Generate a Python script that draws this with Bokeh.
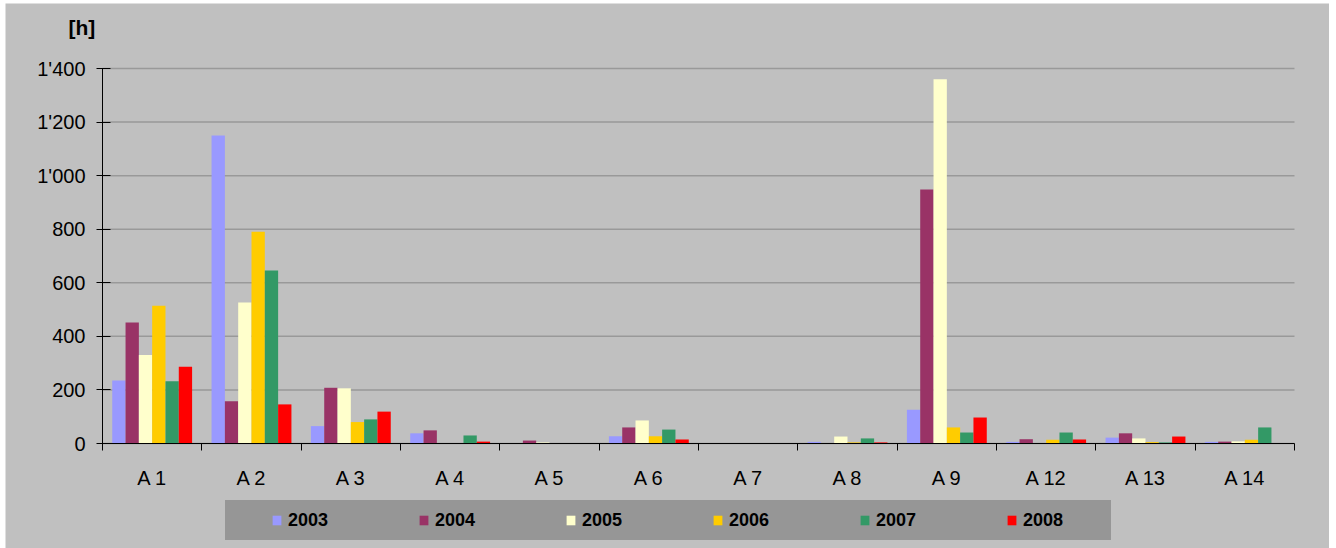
import numpy as np
from bokeh.plotting import figure
from bokeh.models import (ColumnDataSource, FixedTicker, CustomJSTickFormatter,
                          Range1d, Label, Legend, LegendItem)
from bokeh.transform import dodge
from bokeh.embed import file_html
from bokeh.resources import INLINE

# Operating hours per site and year
sites = ["A 1", "A 2", "A 3", "A 4", "A 5", "A 6", "A 7", "A 8", "A 9", "A 12", "A 13", "A 14"]
years = ["2003", "2004", "2005", "2006", "2007", "2008"]
h2003 = [235, 1150, 65, 38, 0, 27, 0, 6, 126, 6, 22, 6]
h2004 = [452, 158, 208, 49, 11, 60, 0, 0, 948, 16, 38, 7]
h2005 = [330, 526, 206, 0, 4, 86, 0, 26, 1360, 0, 19, 8]
h2006 = [514, 791, 80, 0, 0, 27, 0, 4, 60, 14, 5, 14]
h2007 = [232, 646, 90, 30, 0, 52, 0, 19, 41, 41, 4, 60]
h2008 = [287, 146, 119, 7, 0, 15, 0, 4, 97, 15, 26, 0]
y_ticks = [0, 200, 400, 600, 800, 1000, 1200, 1400]
y_tick_labels = ["0", "200", "400", "600", "800", "1'000", "1'200", "1'400"]

series = [h2003, h2004, h2005, h2006, h2007, h2008]
colors = ["#9999FF", "#993366", "#FFFFCC", "#FFCC00", "#339966", "#FF0000"]

FONT = "Liberation Sans"
BG = "#C0C0C0"

# canvas geometry (px): the plotting area spans the whole canvas and the
# axes sit at fixed positions inside it
W, H = 1324, 545
X0, Y0 = 97, 440          # pixel position of the axes' origin
X_LEN, Y_LEN = 1192, 375  # pixel length of the x and y axes
n = len(sites)
y_max = y_ticks[-1]
ppx = X_LEN / n
ppy = Y_LEN / y_max

centers = np.arange(n) + 0.5
data = {"x": centers}
for yr, vals in zip(years, series):
    data["y" + yr] = vals
source = ColumnDataSource(data)

p = figure(width=W, height=H, output_backend="svg", toolbar_location=None, tools="",
           x_range=Range1d(-X0 / ppx, (W - X0) / ppx),
           y_range=Range1d(-(H - Y0) / ppy, Y0 / ppy),
           min_border=0, min_border_left=0, min_border_right=0,
           min_border_top=0, min_border_bottom=0,
           background_fill_color=BG, border_fill_color=BG, outline_line_color=None,
           margin=(3, 7, 0, 5))
p.grid.visible = False

# horizontal gridlines over the value range
p.segment(x0=0, x1=n, y0=y_ticks, y1=y_ticks, line_color="#999999", line_width=1.5,
          level="underlay")

bar_w = 0.134
renderers = []
for k, (yr, col) in enumerate(zip(years, colors)):
    r = p.vbar(x=dodge("x", (k - 2.5) * bar_w, range=p.x_range), top="y" + yr, width=bar_w,
               source=source, fill_color=col, line_color=None)
    renderers.append(r)

# x axis: labels at site centres, ticks at the boundaries between sites
xa = p.xaxis[0]
xa.fixed_location = 0
xa.bounds = (0, n)
xa.ticker = FixedTicker(ticks=list(centers), minor_ticks=list(range(n + 1)))
xa.formatter = CustomJSTickFormatter(args=dict(labels=sites), code="return labels[index]")
xa.major_tick_in = 0
xa.major_tick_out = 0
xa.minor_tick_in = 0
xa.minor_tick_out = 7
xa.minor_tick_line_color = "black"
xa.axis_line_color = "black"
xa.major_label_standoff = 16
xa.major_label_text_font = FONT
xa.major_label_text_font_size = "20px"
xa.major_label_text_color = "black"

# y axis
ya = p.yaxis[0]
ya.fixed_location = 0
ya.bounds = (0, y_max)
ya.ticker = FixedTicker(ticks=y_ticks, minor_ticks=[])
ya.formatter = CustomJSTickFormatter(args=dict(labels=y_tick_labels), code="return labels[index]")
ya.major_tick_in = 8
ya.major_tick_out = 6
ya.minor_tick_line_color = None
ya.axis_line_color = "black"
ya.major_tick_line_color = "black"
ya.major_label_standoff = 11
ya.major_label_text_font = FONT
ya.major_label_text_font_size = "20px"
ya.major_label_text_color = "black"

# unit label above the y axis
p.add_layout(Label(x=63, y=521, x_units="screen", y_units="screen", text="[h]",
                   text_font=FONT, text_font_size="21px", text_font_style="bold",
                   text_color="black", text_baseline="alphabetic"))

# legend strip below the axis
items = [LegendItem(label=yr, renderers=[r]) for yr, r in zip(years, renderers)]
legend = Legend(items=items, orientation="horizontal", location=(220, 8),
                title=" ", title_location="left", title_standoff=25,
                title_text_font=FONT, title_text_font_size="18px",
                glyph_width=11, glyph_height=12, label_standoff=6, label_width=88,
                label_height=40, spacing=42, padding=10, margin=0,
                border_line_color=None, background_fill_color="#969696", background_fill_alpha=1,
                label_text_font=FONT, label_text_font_size="18px",
                label_text_font_style="bold", label_text_color="black")
p.add_layout(legend, "center")

open("out.html", "w").write(file_html(p, INLINE))
